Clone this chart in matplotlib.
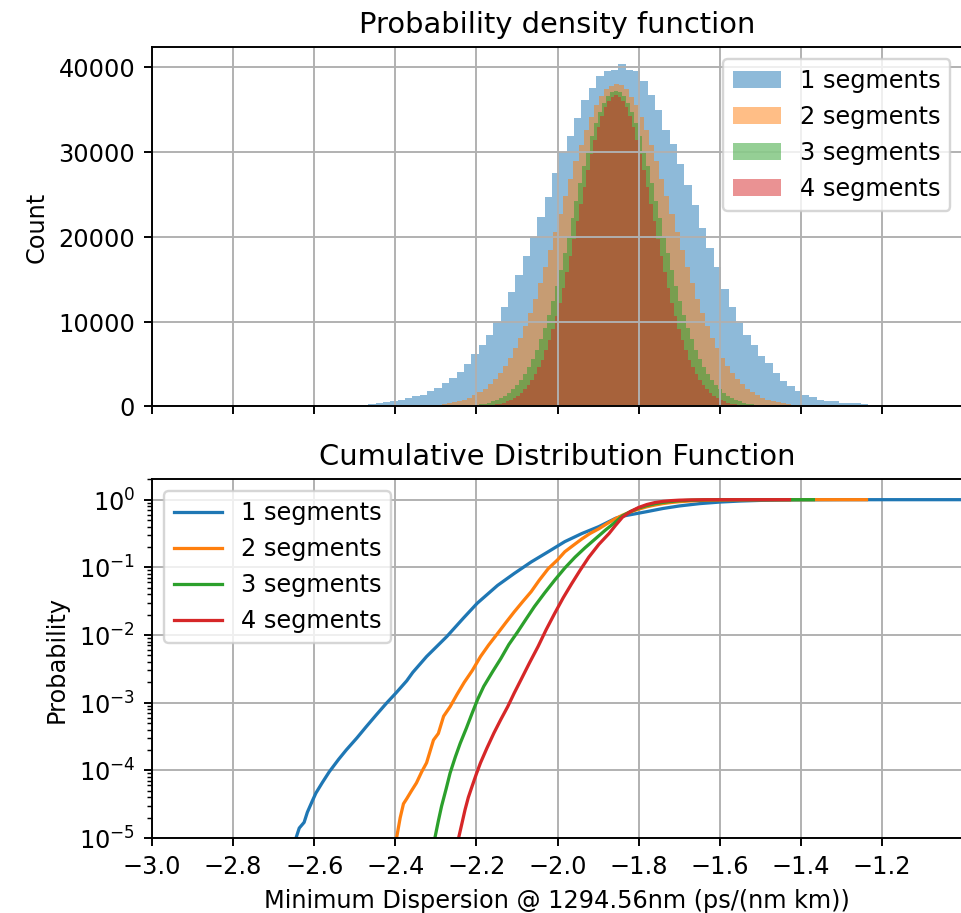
import matplotlib.pyplot as plt
from matplotlib.ticker import MultipleLocator
import numpy as np

labels = ["1 segments", "2 segments", "3 segments", "4 segments"]

# histogram ranges (min, max of each series), 100 bins each
hist_ranges = [(-2.648, -0.835), (-2.484, -1.238), (-2.351, -1.369), (-2.292, -1.428)]

counts_1 = [
    3, 5, 9, 16, 28, 45, 70, 105, 150, 210,
    290, 390, 500, 640, 780, 980, 1180, 1370, 1880, 2160,
    2740, 3330, 4120, 5020, 6190, 7250, 8430, 10000, 11760, 13520,
    15480, 17720, 19990, 22340, 24700, 27520, 29990, 31830, 33990, 36060,
    37550, 38890, 39510, 39670, 40300, 39670, 39510, 38340, 36650, 34890,
    32610, 30890, 28620, 26070, 23720, 20970, 18620, 16390, 13800, 11760,
    9880, 8430, 7250, 5960, 5100, 3920, 3000, 2400, 1880, 1370,
    1100, 790, 690, 630, 450, 400, 360, 240, 170, 120,
    85, 60, 42, 29, 20, 14, 10, 7, 5, 3,
    2, 2, 1, 1, 1, 0, 0, 0, 0, 1,
]
counts_2 = [
    1, 1, 2, 3, 4, 6, 10, 14, 20, 28,
    40, 56, 78, 108, 147, 199, 268, 357, 470, 620,
    800, 1030, 1320, 1670, 2100, 2610, 3220, 3940, 4770, 5740,
    6840, 8090, 9480, 11010, 12680, 14490, 16400, 18410, 20500, 22620,
    24750, 26850, 28880, 30800, 32570, 34140, 35480, 36560, 37420, 37790,
    38000, 37900, 37350, 36500, 35480, 34140, 32570, 30800, 28880, 26850,
    24750, 22620, 20500, 18410, 16400, 14490, 12680, 11010, 9480, 8090,
    6840, 5740, 4770, 3940, 3220, 2610, 2100, 1670, 1320, 1030,
    800, 620, 470, 357, 268, 199, 147, 108, 78, 56,
    40, 28, 20, 14, 10, 6, 4, 3, 2, 1,
]
counts_3 = [
    1, 1, 2, 3, 4, 6, 9, 13, 19, 28,
    39, 55, 76, 105, 144, 195, 262, 349, 461, 606,
    785, 1010, 1290, 1640, 2050, 2550, 3150, 3850, 4670, 5620,
    6700, 7920, 9280, 10780, 12420, 14180, 16060, 18030, 20070, 22150,
    24230, 26290, 28280, 30150, 31880, 33420, 34730, 35790, 36570, 37040,
    37200, 37040, 36570, 35790, 34730, 33420, 31880, 30150, 28280, 26290,
    24230, 22150, 20070, 18030, 16060, 14180, 12420, 10780, 9280, 7920,
    6700, 5620, 4670, 3850, 3150, 2550, 2050, 1640, 1290, 1010,
    785, 606, 461, 349, 262, 195, 144, 105, 76, 55,
    39, 28, 19, 13, 9, 6, 4, 3, 2, 1,
]
counts_4 = [
    1, 1, 2, 3, 4, 6, 9, 13, 19, 27,
    38, 54, 75, 104, 142, 192, 258, 344, 454, 597,
    773, 1000, 1270, 1610, 2020, 2510, 3100, 3800, 4600, 5530,
    6600, 7800, 9140, 10620, 12230, 13970, 15820, 17760, 19770, 21820,
    23870, 25900, 27860, 29710, 31410, 32930, 34220, 35260, 36030, 36490,
    36650, 36490, 36030, 35260, 34220, 32930, 31410, 29710, 27860, 25900,
    23870, 21820, 19770, 17760, 15820, 13970, 12230, 10620, 9140, 7800,
    6600, 5530, 4600, 3800, 3100, 2510, 2020, 1610, 1270, 1000,
    773, 597, 454, 344, 258, 192, 142, 104, 75, 54,
    38, 27, 19, 13, 9, 6, 4, 3, 2, 1,
]

cdf_x_1 = [-2.652, -2.645, -2.637, -2.625, -2.617, -2.605, -2.596, -2.580, -2.563, -2.540,
           -2.521, -2.495, -2.472, -2.447, -2.422, -2.398, -2.372, -2.357, -2.323, -2.273,
           -2.232, -2.198, -2.148, -2.107, -2.065, -2.023, -1.982, -1.940, -1.898, -1.857,
           -1.840, -1.820, -1.780, -1.740, -1.700, -1.650, -1.600, -1.550, -1.500, -1.450,
           -1.400, -1.300, -1.200, -1.100, -0.835]
cdf_p_1 = [6e-6, 1.0e-5, 1.4e-5, 1.7e-5, 2.4e-5, 3.5e-5, 4.6e-5, 6.6e-5, 9.5e-5, 1.45e-4,
           2.0e-4, 3.0e-4, 4.4e-4, 6.6e-4, 9.8e-4, 1.4e-3, 2.1e-3, 2.8e-3, 4.8e-3, 9.5e-3,
           1.78e-2, 2.95e-2, 5.4e-2, 8.1e-2, 0.12, 0.17, 0.24, 0.316, 0.40, 0.53,
           0.57, 0.60, 0.665, 0.741, 0.807, 0.874, 0.922, 0.955, 0.976, 0.988,
           0.9941, 0.999, 0.99986, 0.99998, 1.0]

cdf_x_2 = [-2.402, -2.397, -2.388, -2.380, -2.372, -2.360, -2.348, -2.335, -2.323, -2.306,
           -2.294, -2.281, -2.265, -2.248, -2.230, -2.210, -2.190, -2.170, -2.148, -2.128,
           -2.107, -2.085, -2.065, -2.045, -2.023, -2.000, -1.982, -1.960, -1.940, -1.920,
           -1.898, -1.878, -1.857, -1.840, -1.820, -1.800, -1.780, -1.760, -1.740, -1.720,
           -1.700, -1.670, -1.640, -1.600, -1.560, -1.520, -1.480, -1.440, -1.400, -1.350,
           -1.238]
cdf_p_2 = [6.3e-6, 1.0e-5, 2.0e-5, 3.2e-5, 3.8e-5, 5.0e-5, 6.5e-5, 9.5e-5, 1.29e-4, 2.8e-4,
           3.5e-4, 6.3e-4, 8.7e-4, 1.32e-3, 2.0e-3, 3.0e-3, 4.8e-3, 7.1e-3, 1.05e-2, 1.51e-2,
           2.19e-2, 3.16e-2, 4.37e-2, 6.46e-2, 9.55e-2, 0.129, 0.170, 0.214, 0.263, 0.316,
           0.372, 0.442, 0.525, 0.589, 0.661, 0.724, 0.785, 0.832, 0.875, 0.908,
           0.933, 0.959, 0.977, 0.9886, 0.9942, 0.9972, 0.9989, 0.99954, 0.99977, 0.99993,
           1.0]

cdf_x_3 = [-2.306, -2.3025, -2.294, -2.286, -2.275, -2.265, -2.252, -2.240, -2.225, -2.211,
           -2.197, -2.182, -2.160, -2.140, -2.120, -2.098, -2.077, -2.057, -2.032, -2.007,
           -1.982, -1.957, -1.932, -1.907, -1.882, -1.857, -1.840, -1.820, -1.800, -1.780,
           -1.760, -1.740, -1.720, -1.700, -1.670, -1.640, -1.600, -1.560, -1.520, -1.480,
           -1.369]
cdf_p_3 = [6.3e-6, 1.0e-5, 1.78e-5, 2.95e-5, 5.25e-5, 9.1e-5, 1.58e-4, 2.51e-4, 4.17e-4, 6.9e-4,
           1.12e-3, 1.74e-3, 2.88e-3, 4.47e-3, 7.24e-3, 1.12e-2, 1.74e-2, 2.63e-2, 4.17e-2, 6.46e-2,
           9.77e-2, 0.141, 0.195, 0.263, 0.355, 0.468, 0.575, 0.668, 0.750, 0.817,
           0.871, 0.912, 0.942, 0.964, 0.9818, 0.9915, 0.99724, 0.99908, 0.99972, 0.99991,
           1.0]

cdf_x_4 = [-2.248, -2.244, -2.236, -2.228, -2.220, -2.211, -2.200, -2.190, -2.174, -2.157,
           -2.140, -2.123, -2.107, -2.090, -2.069, -2.048, -2.028, -2.007, -1.986, -1.965,
           -1.944, -1.923, -1.898, -1.873, -1.857, -1.840, -1.820, -1.800, -1.780, -1.760,
           -1.740, -1.720, -1.700, -1.670, -1.640, -1.600, -1.560, -1.520, -1.428]
cdf_p_4 = [6.3e-6, 1.0e-5, 1.62e-5, 2.63e-5, 3.98e-5, 5.75e-5, 8.9e-5, 1.29e-4, 2.14e-4, 3.55e-4,
           5.62e-4, 8.7e-4, 1.38e-3, 2.19e-3, 3.89e-3, 6.76e-3, 1.20e-2, 2.09e-2, 3.55e-2, 5.75e-2,
           9.12e-2, 0.141, 0.219, 0.316, 0.417, 0.550, 0.668, 0.767, 0.847, 0.906,
           0.944, 0.968, 0.983, 0.9931, 0.9977, 0.99931, 0.99982, 0.99995, 1.0]

all_counts = [counts_1, counts_2, counts_3, counts_4]
all_cdf = [(cdf_x_1, cdf_p_1), (cdf_x_2, cdf_p_2), (cdf_x_3, cdf_p_3), (cdf_x_4, cdf_p_4)]

DPI = 173
fig = plt.figure(figsize=(961.4 / DPI, 913.4 / DPI), dpi=DPI)
ax1 = fig.add_axes([152 / 961, (913 - 406.7) / 913, 810 / 961, 359 / 913])
ax2 = fig.add_axes([152 / 961, (913 - 838) / 913, 810 / 961, 358.5 / 913], sharex=ax1)

# top: histograms
for counts, (lo, hi), label in zip(all_counts, hist_ranges, labels):
    edges = np.linspace(lo, hi, len(counts) + 1)
    ax1.hist(edges[:-1], bins=edges, weights=counts, histtype="stepfilled",
             alpha=0.5, label=label)
ax1.set_title("Probability density function")
ax1.set_ylabel("Count")
ax1.legend(loc="upper right")
ax1.grid(True)
ax1.tick_params(labelbottom=False)

# bottom: CDF
for (xs, ps), label in zip(all_cdf, labels):
    ax2.plot(xs, ps, linewidth=1.35, label=label)
ax2.set_yscale("log")
ax2.set_ylim(1e-5, 2.0)
ax2.set_xlim(-3.0, -1.0015)
ax2.xaxis.set_major_locator(MultipleLocator(0.2))
ax2.set_title("Cumulative Distribution Function")
ax2.set_xlabel("Minimum Dispersion @ 1294.56nm (ps/(nm km))")
ax2.set_ylabel("Probability")
ax2.legend(loc="upper left")
ax2.grid(True)

fig.savefig("out.png", dpi=DPI)
